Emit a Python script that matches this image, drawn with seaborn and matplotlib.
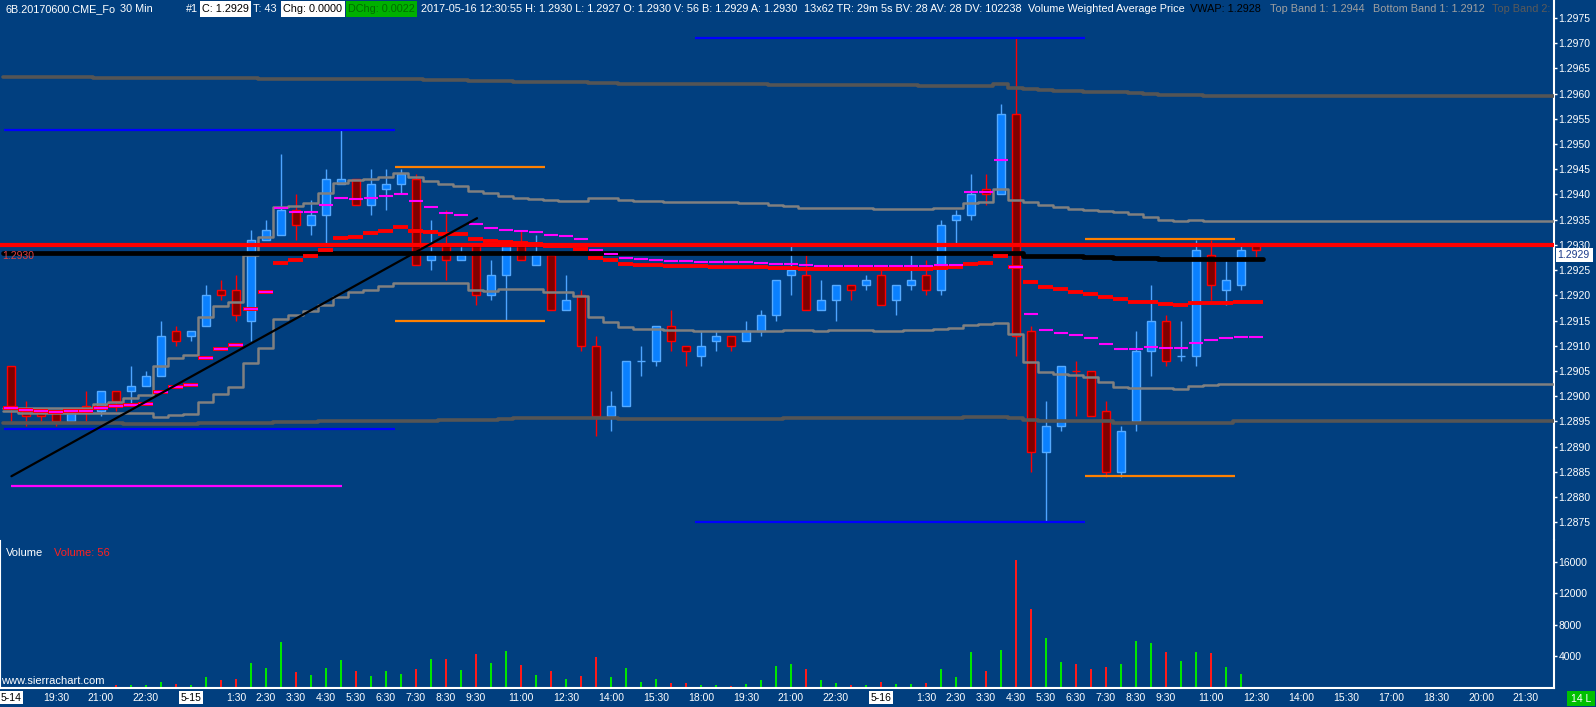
import matplotlib
matplotlib.use("Agg")
import matplotlib.pyplot as plt
import matplotlib.font_manager as fm
from matplotlib.patches import Rectangle
from matplotlib.transforms import Bbox
import numpy as np
import seaborn as sns

# 30 min bars of 6B, 5-14 18:00 .. 5-16 12:30
opens = [1.2906, 1.2897, 1.2897, 1.2897, 1.2895, 1.2898, 1.2897, 1.2901, 1.2901, 1.2902,
         1.2904, 1.2913, 1.2912, 1.2914, 1.2921, 1.2921, 1.2915, 1.2931, 1.2932, 1.2937,
         1.2934, 1.2936, 1.2942, 1.2943, 1.2938, 1.2941, 1.2942, 1.2943, 1.2927, 1.2930,
         1.2927, 1.2930, 1.2920, 1.2924, 1.2930, 1.2926, 1.2928, 1.2917, 1.2920, 1.2910,
         1.2896, 1.2898, 1.2907, 1.2907, 1.2914, 1.2910, 1.2908, 1.2911, 1.2912, 1.2911,
         1.2913, 1.2916, 1.2924, 1.2924, 1.2917, 1.2919, 1.2922, 1.2922, 1.2924, 1.2919,
         1.2922, 1.2924, 1.2921, 1.2935, 1.2936, 1.2941, 1.2940, 1.2956, 1.2913, 1.2889,
         1.2894, 1.2905, 1.2905, 1.2897, 1.2885, 1.2895, 1.2909, 1.2915, 1.2908, 1.2908,
         1.2928, 1.2921, 1.2922, 1.2930]
highs = [1.2906, 1.2899, 1.2897, 1.2897, 1.2897, 1.2901, 1.2901, 1.2901, 1.2906, 1.2905,
         1.2915, 1.2914, 1.2913, 1.2922, 1.2923, 1.2924, 1.2933, 1.2935, 1.2948, 1.2940,
         1.2939, 1.2945, 1.2953, 1.2943, 1.2945, 1.2945, 1.2945, 1.2944, 1.2935, 1.2937,
         1.2930, 1.2930, 1.2927, 1.2930, 1.2933, 1.2932, 1.2928, 1.2924, 1.2921, 1.2912,
         1.2901, 1.2907, 1.2910, 1.2914, 1.2917, 1.2910, 1.2913, 1.2913, 1.2912, 1.2915,
         1.2917, 1.2923, 1.2930, 1.2928, 1.2923, 1.2922, 1.2922, 1.2924, 1.2925, 1.2922,
         1.2928, 1.2927, 1.2935, 1.2937, 1.2944, 1.2944, 1.2958, 1.2971, 1.2914, 1.2899,
         1.2906, 1.2907, 1.2905, 1.2899, 1.2894, 1.2913, 1.2922, 1.2916, 1.2915, 1.2931,
         1.2931, 1.2927, 1.2930, 1.2930]
lows = [1.2895, 1.2894, 1.2895, 1.2894, 1.2895, 1.2895, 1.2896, 1.2897, 1.2898, 1.2902,
        1.2904, 1.2910, 1.2911, 1.2914, 1.2919, 1.2915, 1.2911, 1.2931, 1.2932, 1.2931,
        1.2932, 1.2930, 1.2942, 1.2938, 1.2936, 1.2937, 1.2940, 1.2926, 1.2925, 1.2923,
        1.2927, 1.2918, 1.2919, 1.2915, 1.2927, 1.2926, 1.2917, 1.2917, 1.2909, 1.2892,
        1.2893, 1.2898, 1.2904, 1.2906, 1.2909, 1.2906, 1.2906, 1.2909, 1.2909, 1.2911,
        1.2912, 1.2915, 1.2920, 1.2917, 1.2917, 1.2915, 1.2919, 1.2921, 1.2918, 1.2916,
        1.2921, 1.2920, 1.2920, 1.2930, 1.2935, 1.2938, 1.2940, 1.2908, 1.2885, 1.2875,
        1.2893, 1.2896, 1.2896, 1.2884, 1.2884, 1.2893, 1.2904, 1.2906, 1.2907, 1.2906,
        1.2919, 1.2918, 1.2921, 1.2927]
closes = [1.2898, 1.2896, 1.2896, 1.2895, 1.2897, 1.2897, 1.2901, 1.2899, 1.2902, 1.2904,
          1.2912, 1.2911, 1.2913, 1.2920, 1.2920, 1.2916, 1.2931, 1.2933, 1.2937, 1.2934,
          1.2936, 1.2943, 1.2943, 1.2938, 1.2942, 1.2942, 1.2944, 1.2926, 1.2928, 1.2927,
          1.2928, 1.2920, 1.2924, 1.2930, 1.2927, 1.2928, 1.2917, 1.2919, 1.2910, 1.2896,
          1.2898, 1.2907, 1.2907, 1.2914, 1.2911, 1.2909, 1.2910, 1.2912, 1.2910, 1.2913,
          1.2916, 1.2923, 1.2925, 1.2917, 1.2919, 1.2922, 1.2921, 1.2923, 1.2918, 1.2922,
          1.2923, 1.2921, 1.2934, 1.2936, 1.2940, 1.2940, 1.2956, 1.2912, 1.2889, 1.2894,
          1.2906, 1.2905, 1.2896, 1.2885, 1.2893, 1.2909, 1.2915, 1.2907, 1.2908, 1.2929,
          1.2922, 1.2923, 1.2929, 1.2929]
volumes = [60, 40, 30, 50, 40, 70, 50, 280, 320, 320,
           700, 450, 320, 1340, 950, 1080, 3120, 2520, 5800, 1975,
           1590, 2480, 3500, 2060, 1465, 2100, 1720, 2350, 3630, 3630,
           2230, 4270, 3120, 4650, 2870, 1590, 2100, 1080, 1465, 3880,
           1340, 2520, 700, 1080, 570, 570, 320, 320, 190, 450,
           950, 2740, 3000, 2320, 950, 570, 320, 320, 700, 450,
           450, 570, 2360, 1340, 4520, 2100, 4780, 16240, 10000, 6310,
           3250, 2990, 2360, 2620, 2990, 5930, 5670, 4520, 3380, 4520,
           4390, 2620, 1720, 56]

vwap = [1.29283, 1.29283, 1.29283, 1.29283, 1.29283, 1.29283, 1.29283, 1.29283, 1.29283, 1.29283,
        1.29283, 1.29283, 1.29283, 1.29283, 1.29283, 1.29283, 1.29283, 1.29283, 1.29283, 1.29283,
        1.29283, 1.29283, 1.29283, 1.29283, 1.29283, 1.29283, 1.29283, 1.29283, 1.29283, 1.29283,
        1.29283, 1.29283, 1.29283, 1.29283, 1.29283, 1.29283, 1.29283, 1.29283, 1.29283, 1.29283,
        1.29283, 1.29283, 1.29283, 1.29283, 1.29283, 1.29283, 1.29283, 1.29283, 1.29283, 1.29283,
        1.29283, 1.29283, 1.29283, 1.29283, 1.29283, 1.29283, 1.29283, 1.29283, 1.29283, 1.29283,
        1.29283, 1.29283, 1.29283, 1.29283, 1.29283, 1.29283, 1.29283, 1.29283, 1.29278, 1.29278,
        1.29278, 1.29278, 1.29276, 1.29276, 1.29274, 1.29274, 1.29274, 1.29273, 1.29273, 1.29273,
        1.29273, 1.29273, 1.29273, 1.29273]
band1_top = [1.28976, 1.28976, 1.28976, 1.28976, 1.28976, 1.28976, 1.28984, 1.28988, 1.28996, 1.29002,
             1.29060, 1.29076, 1.29082, 1.29157, 1.29179, 1.29187, 1.29280, 1.29316, 1.29375, 1.29377,
             1.29383, 1.29403, 1.29423, 1.29429, 1.29431, 1.29435, 1.29443, 1.29435, 1.29427, 1.29421,
             1.29417, 1.29407, 1.29403, 1.29397, 1.29393, 1.29391, 1.29389, 1.29387, 1.29387, 1.29394,
             1.29394, 1.29389, 1.29387, 1.29387, 1.29385, 1.29385, 1.29385, 1.29385, 1.29385, 1.29383,
             1.29383, 1.29379, 1.29377, 1.29373, 1.29373, 1.29373, 1.29373, 1.29373, 1.29371, 1.29371,
             1.29371, 1.29371, 1.29373, 1.29373, 1.29384, 1.29386, 1.29411, 1.29389, 1.29386, 1.29379,
             1.29376, 1.29371, 1.29369, 1.29367, 1.29365, 1.29361, 1.29356, 1.29349, 1.29347, 1.29349,
             1.29347, 1.29347, 1.29347, 1.29347]
band1_bottom = [1.28970, 1.28966, 1.28966, 1.28966, 1.28966, 1.28966, 1.28966, 1.28966, 1.28966, 1.28966,
                1.28958, 1.28962, 1.28964, 1.28988, 1.29004, 1.29018, 1.29066, 1.29095, 1.29153, 1.29161,
                1.29169, 1.29181, 1.29197, 1.29207, 1.29211, 1.29218, 1.29224, 1.29224, 1.29224, 1.29224,
                1.29224, 1.29211, 1.29209, 1.29213, 1.29213, 1.29213, 1.29207, 1.29207, 1.29199, 1.29156,
                1.29147, 1.29138, 1.29133, 1.29133, 1.29131, 1.29131, 1.29129, 1.29129, 1.29129, 1.29129,
                1.29129, 1.29129, 1.29131, 1.29131, 1.29129, 1.29131, 1.29131, 1.29131, 1.29129, 1.29129,
                1.29131, 1.29131, 1.29133, 1.29136, 1.29142, 1.29143, 1.29146, 1.29123, 1.29068, 1.29048,
                1.29044, 1.29042, 1.29037, 1.29027, 1.29019, 1.29017, 1.29017, 1.29016, 1.29014, 1.29020,
                1.29022, 1.29024, 1.29024, 1.29024]
band2_top = [1.29634, 1.29634, 1.29634, 1.29634, 1.29634, 1.29634, 1.29632, 1.29632, 1.29632, 1.29632,
             1.29632, 1.29632, 1.29632, 1.29632, 1.29632, 1.29632, 1.29632, 1.29630, 1.29630, 1.29630,
             1.29630, 1.29630, 1.29630, 1.29630, 1.29630, 1.29630, 1.29630, 1.29630, 1.29628, 1.29628,
             1.29628, 1.29626, 1.29626, 1.29626, 1.29623, 1.29623, 1.29623, 1.29623, 1.29623, 1.29621,
             1.29621, 1.29619, 1.29619, 1.29619, 1.29619, 1.29619, 1.29619, 1.29619, 1.29619, 1.29619,
             1.29619, 1.29618, 1.29618, 1.29618, 1.29618, 1.29618, 1.29618, 1.29618, 1.29618, 1.29618,
             1.29618, 1.29616, 1.29616, 1.29616, 1.29616, 1.29616, 1.29619, 1.29612, 1.29609, 1.29607,
             1.29605, 1.29605, 1.29604, 1.29604, 1.29604, 1.29602, 1.29600, 1.29598, 1.29598, 1.29598,
             1.29596, 1.29596, 1.29596, 1.29596]
band2_bottom = [1.28947, 1.28947, 1.28947, 1.28947, 1.28947, 1.28947, 1.28947, 1.28947, 1.28945, 1.28945,
                1.28945, 1.28945, 1.28945, 1.28947, 1.28947, 1.28947, 1.28947, 1.28947, 1.28948, 1.28948,
                1.28948, 1.28950, 1.28950, 1.28950, 1.28951, 1.28951, 1.28951, 1.28951, 1.28951, 1.28953,
                1.28953, 1.28953, 1.28953, 1.28955, 1.28956, 1.28956, 1.28956, 1.28956, 1.28956, 1.28956,
                1.28956, 1.28954, 1.28954, 1.28954, 1.28954, 1.28954, 1.28954, 1.28954, 1.28954, 1.28954,
                1.28954, 1.28954, 1.28956, 1.28956, 1.28956, 1.28956, 1.28956, 1.28956, 1.28956, 1.28956,
                1.28956, 1.28956, 1.28956, 1.28956, 1.28958, 1.28958, 1.28959, 1.28957, 1.28953, 1.28951,
                1.28951, 1.28951, 1.28950, 1.28950, 1.28947, 1.28947, 1.28947, 1.28947, 1.28947, 1.28947,
                1.28947, 1.28947, 1.28950, 1.28950]
avg_red = [1.28976, 1.28972, 1.28970, 1.28968, 1.28970, 1.28970, 1.28976, 1.28980, 1.28982, 1.28984,
           1.29009, 1.29019, 1.29022, 1.29076, 1.29093, 1.29101, 1.29173, 1.29207, 1.29264, 1.29270,
           1.29277, 1.29290, 1.29314, 1.29316, 1.29324, 1.29328, 1.29336, 1.29328, 1.29326, 1.29322,
           1.29322, 1.29312, 1.29308, 1.29306, 1.29304, 1.29302, 1.29298, 1.29298, 1.29292, 1.29275,
           1.29270, 1.29262, 1.29260, 1.29260, 1.29258, 1.29258, 1.29258, 1.29256, 1.29256, 1.29256,
           1.29256, 1.29254, 1.29254, 1.29253, 1.29253, 1.29253, 1.29253, 1.29253, 1.29252, 1.29252,
           1.29252, 1.29252, 1.29255, 1.29257, 1.29263, 1.29265, 1.29278, 1.29256, 1.29227, 1.29216,
           1.29212, 1.29207, 1.29203, 1.29197, 1.29193, 1.29187, 1.29187, 1.29183, 1.29181, 1.29185,
           1.29185, 1.29185, 1.29187, 1.29187]
avg_magenta = [1.28976, 1.28972, 1.28970, 1.28968, 1.28970, 1.28970, 1.28976, 1.28980, 1.28982, 1.28984,
               1.29009, 1.29019, 1.29022, 1.29076, 1.29093, 1.29101, 1.29173, 1.29207, 1.29374, 1.29366,
               1.29366, 1.29379, 1.29394, 1.29391, 1.29394, 1.29398, 1.29401, 1.29388, 1.29376, 1.29364,
               1.29359, 1.29341, 1.29334, 1.29330, 1.29328, 1.29325, 1.29320, 1.29318, 1.29312, 1.29289,
               1.29282, 1.29275, 1.29272, 1.29270, 1.29268, 1.29268, 1.29266, 1.29266, 1.29266, 1.29266,
               1.29264, 1.29262, 1.29262, 1.29260, 1.29258, 1.29258, 1.29258, 1.29258, 1.29258, 1.29258,
               1.29258, 1.29258, 1.29260, 1.29260, 1.29405, 1.29405, 1.29468, 1.29257, 1.29162, 1.29131,
               1.29126, 1.29122, 1.29116, 1.29104, 1.29094, 1.29094, 1.29098, 1.29095, 1.29095, 1.29106,
               1.29111, 1.29116, 1.29118, 1.29118]

# drawn levels: (price, from bar, to bar)
session_levels = [(1.29527, -0.45, 25.6), (1.28935, -0.45, 25.6),
                  (1.29711, 45.6, 71.6), (1.28751, 45.6, 71.6)]
range_levels = [(1.29455, 25.6, 35.6), (1.29150, 25.6, 35.6),
                (1.29312, 71.6, 81.6), (1.28842, 71.6, 81.6)]
low_line = (1.28822, 0.03, 22.05)
prev_vwap_line = (1.29298, 21.5, 35.5)
trend_bars = [0.03, 31.07]
trend_prices = [1.28841, 1.29353]
hline_price = 1.2930
last_price = 1.2929

price_ticks = [1.2875, 1.2880, 1.2885, 1.2890, 1.2895, 1.2900, 1.2905, 1.2910, 1.2915, 1.2920,
               1.2925, 1.2930, 1.2935, 1.2940, 1.2945, 1.2950, 1.2955, 1.2960, 1.2965, 1.2970, 1.2975]
volume_ticks = [4000, 8000, 12000, 16000]
time_ticks = [0, 3, 6, 9, 12, 15, 17, 19, 21, 23, 25, 27, 29, 31, 34, 37, 40, 43, 46, 49,
              52, 55, 58, 61, 63, 65, 67, 69, 71, 73, 75, 77, 80, 83, 86, 89, 92, 95, 98, 101]
time_labels = ["5-14", "19:30", "21:00", "22:30", "5-15", "1:30", "2:30", "3:30", "4:30", "5:30",
               "6:30", "7:30", "8:30", "9:30", "11:00", "12:30", "14:00", "15:30", "18:00", "19:30",
               "21:00", "22:30", "5-16", "1:30", "2:30", "3:30", "4:30", "5:30", "6:30", "7:30",
               "8:30", "9:30", "11:00", "12:30", "14:00", "15:30", "17:00", "18:30", "20:00", "21:30"]
date_labels = ["5-14", "5-15", "5-16"]

header_texts = ["6B.20170600.CME_Fo", "30 Min", "#1", "C: 1.2929", "T: 43", "Chg: 0.0000",
                "DChg: 0.0022",
                "2017-05-16 12:30:55 H: 1.2930 L: 1.2927 O: 1.2930 V: 56 B: 1.2929 A: 1.2930",
                "13x62 TR: 29m 5s BV: 28 AV: 28 DV: 102238", "Volume Weighted Average Price",
                "VWAP: 1.2928", "Top Band 1: 1.2944", "Bottom Band 1: 1.2912", "Top Band 2:"]

sns.set_theme(style="dark")
names = {f.name for f in fm.fontManager.ttflist}
FONT = "Liberation Sans Narrow" if "Liberation Sans Narrow" in names else "Liberation Sans"
FS = 9 if "Narrow" in FONT else 7.5
plt.rcParams["font.family"] = [FONT, "DejaVu Sans"]

BG = "#013f7f"
W, H = 1596, 707
fig = plt.figure(figsize=(W / 100, H / 100), dpi=100, facecolor=BG)


def rect(x0, y0, x1, y1):
    return [x0 / W, 1 - y1 / H, (x1 - x0) / W, (y1 - y0) / H]


ax = fig.add_axes(rect(0, 0, 1554, 540))
axv = fig.add_axes(rect(0, 540, 1554, 687.5), sharex=ax)
for a in (ax, axv):
    a.set_facecolor(BG)
    a.grid(False)
    for s in a.spines.values():
        s.set_visible(False)
    a.spines["right"].set_visible(True)
    a.spines["right"].set_color("white")
    a.spines["right"].set_linewidth(1.5)
axv.spines["bottom"].set_visible(True)
axv.spines["bottom"].set_color("white")
axv.spines["bottom"].set_linewidth(1.5)
axv.spines["left"].set_visible(True)
axv.spines["left"].set_color("white")
axv.spines["left"].set_linewidth(0.8)

xmax = 102.87
ax.set_xlim(-0.733, xmax)
ax.set_ylim(1.287145, 1.297859)
axv.set_ylim(0, 18792)

bars = np.arange(len(opens))
o, h, l, c = map(np.array, (opens, highs, lows, closes))
prev = np.r_[c[0], c[:-1]]
up = (c > o) | ((c == o) & (c >= prev))

# candles
ax.vlines(bars, l, h, colors=np.where(up, "#4ea5ff", "#ff0000"), lw=1.0, zorder=2)
ax.bar(bars, np.abs(c - o), bottom=np.minimum(o, c), width=0.56,
       color=np.where(up, "#0a80ff", "#800000"),
       edgecolor=np.where(up, "#55aaff", "#ff0000"), linewidth=1.0, zorder=2.5)

# volume
axv.bar(bars, volumes, width=0.15, color=np.where(up, "#00e600", "#ff1a1a"), linewidth=0)

# VWAP bands, projected to the right edge
band_x = np.r_[-0.5, bars, xmax]
for vals, col, lw in [(band2_top, "#555555", 2.6), (band2_bottom, "#555555", 2.6),
                      (band1_top, "#808080", 1.8), (band1_bottom, "#808080", 1.8)]:
    sns.lineplot(x=band_x, y=np.r_[vals[0], vals, vals[-1]], ax=ax, color=col, lw=lw,
                 drawstyle="steps-mid", sort=False, estimator=None, legend=False, zorder=3)

sns.lineplot(x=np.r_[-0.5, bars, 83.5], y=np.r_[vwap[0], vwap, vwap[-1]], ax=ax,
             color="black", lw=3.4, drawstyle="steps-mid", sort=False, estimator=None,
             legend=False, zorder=3.5)
ax.hlines(prev_vwap_line[0], prev_vwap_line[1], prev_vwap_line[2], colors="black", lw=1, zorder=3.5)

ax.hlines(avg_red, bars - 0.5, bars + 0.5, colors="#ff0000", lw=2.8, zorder=4)
ax.hlines(avg_magenta, bars - 0.47, bars + 0.47, colors="#ff00ff", lw=1.5, zorder=4.2)

for p, x0, x1 in session_levels:
    ax.hlines(p, x0, x1, colors="#0000ff", lw=1.6, zorder=4.5)
for p, x0, x1 in range_levels:
    ax.hlines(p, x0, x1, colors="#ff8000", lw=1.6, zorder=4.5)
ax.hlines(low_line[0], low_line[1], low_line[2], colors="#ff00ff", lw=1.6, zorder=4.5)

ax.axhline(hline_price, color="#ff0000", lw=3.0, zorder=6)
ax.plot(trend_bars, trend_prices, color="black", lw=1.6, zorder=7)

# axes ticks
ax.yaxis.tick_right()
ax.set_yticks(price_ticks)
ax.set_yticklabels([f"{t:.4f}" for t in price_ticks])
ax.tick_params(axis="y", colors="white", length=2.2, width=1, pad=1, labelsize=FS)
ax.tick_params(axis="x", bottom=False, labelbottom=False)

axv.yaxis.tick_right()
axv.set_yticks(volume_ticks)
axv.set_yticklabels([str(v) for v in volume_ticks])
axv.tick_params(axis="y", colors="white", length=2.2, width=1, pad=1, labelsize=FS)
axv.set_xticks(time_ticks)
axv.set_xticklabels(time_labels)
axv.tick_params(axis="x", colors="white", length=2.2, width=1, pad=1.5, labelsize=FS)
for lbl in axv.get_xticklabels():
    if lbl.get_text() in date_labels:
        lbl.set_color("black")
        lbl.set_bbox(dict(boxstyle="square,pad=0.15", fc="white", ec="none"))


def fx(x):
    return x / W


def fy(y):
    return 1 - y / H


def box(x0, y0, x1, y1, col):
    fig.add_artist(Rectangle((fx(x0), fy(y1)), (x1 - x0) / W, (y1 - y0) / H,
                             transform=fig.transFigure, fc=col, ec="none", zorder=2))


# header line: one font size, segments laid out left to right
head_style = [("white", None, 4), ("white", None, 33), ("white", None, 4),
              ("black", "white", 4), ("white", None, 6), ("black", "white", 5),
              ("#006d00", "#00b000", 6), ("white", None, 4), ("white", None, 5),
              ("white", None, 5), ("black", None, 8), ("#a0a0a0", None, 9),
              ("#a0a0a0", None, 7), ("#5a5a5a", None, 0)]
fig.canvas.draw()
rend = fig.canvas.get_renderer()
head = [fig.text(0, fy(9), txt, color=st[0], fontsize=10, va="center", ha="left", zorder=3)
        for txt, st in zip(header_texts, head_style)]
widths = [t.get_window_extent(rend).width for t in head]
gap_sum = sum(st[2] for st in head_style[:12])
k = (1485 - 5 - gap_sum) / sum(widths[:13])
xpos = 5
for t, w, st in zip(head, widths, head_style):
    t.set_fontsize(10 * k)
    t.set_x(fx(xpos))
    if st[1]:
        box(xpos - 2, 1, xpos + w * k + 2, 17, st[1])
    xpos += w * k + st[2]
head[-1].set_clip_box(Bbox.from_extents(0, 0, 1553, H))
head[-1].set_clip_on(True)

# other labels
fig.text(fx(6), fy(553), "Volume", color="white", fontsize=FS + 0.5, va="center", ha="left")
fig.text(fx(54), fy(553), "Volume: 56", color="#ff2020", fontsize=FS + 0.5, va="center", ha="left")
fig.text(fx(1), fy(681), "www.sierrachart.com", color="white", fontsize=FS + 0.5, va="center", ha="left")
fig.text(fx(2), fy(256), f"{hline_price:.4f}", color="#e04040", fontsize=FS, va="center", ha="left")

ylast = 43.3 + (1.2970 - last_price) * 50400 + 5
box(1556, ylast - 7, 1593, ylast + 7, "white")
fig.text(fx(1557), fy(ylast), f"{last_price:.4f}", color="#1a3a8a", fontsize=FS, va="center",
         ha="left", zorder=3)
box(1567, 691, 1595, 706, "#00c000")
fig.text(fx(1581), fy(698.5), "14 L", color="white", fontsize=FS, va="center", ha="center", zorder=3)

fig.savefig("out.png", dpi=100, facecolor=BG)
